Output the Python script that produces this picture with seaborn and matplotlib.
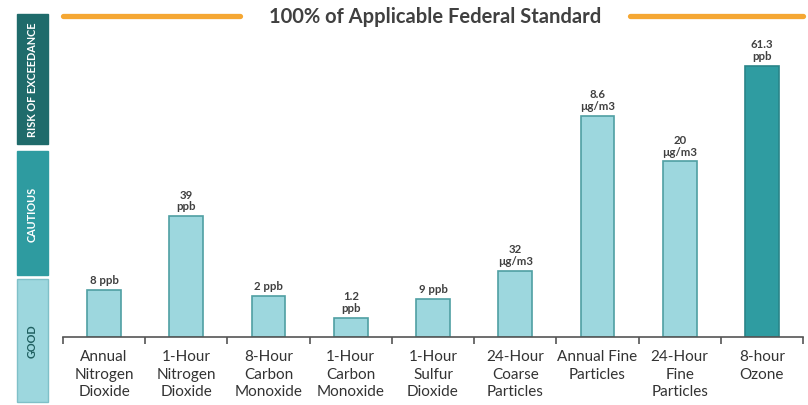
import matplotlib
matplotlib.use("Agg")
import matplotlib.pyplot as plt
import seaborn as sns
import pandas as pd
from matplotlib.patches import Rectangle
from matplotlib.lines import Line2D

categories = ["Annual\nNitrogen\nDioxide", "1-Hour\nNitrogen\nDioxide", "8-Hour\nCarbon\nMonoxide",
              "1-Hour\nCarbon\nMonoxide", "1-Hour\nSulfur\nDioxide", "24-Hour\nCoarse\nParticles",
              "Annual Fine\nParticles", "24-Hour\nFine\nParticles", "8-hour\nOzone"]
percent_of_standard = [14.6, 37.6, 12.7, 5.9, 11.8, 20.5, 68.9, 54.7, 84.5]
bar_labels = ["8 ppb", "39\nppb", "2 ppb", "1.2\nppb", "9 ppb", "32\nµg/m3", "8.6\nµg/m3", "20\nµg/m3", "61.3\nppb"]
status = ["good", "good", "good", "good", "good", "good", "good", "good", "cautious"]
bands = ["RISK OF EXCEEDANCE", "CAUTIOUS", "GOOD"]
title_text = "100% of Applicable Federal Standard"

sns.set_style("white")
plt.rcParams["font.family"] = ["Lato", "DejaVu Sans"]

W, H = 808, 406
fig = plt.figure(figsize=(W / 100, H / 100), dpi=100)
ax = fig.add_axes([63 / W, (H - 338) / H, (803 - 63) / W, (338 - 17) / H])

df = pd.DataFrame({"cat": categories, "val": percent_of_standard, "status": status})
palette = {"good": "#9dd7de", "cautious": "#2f9ca1"}
sns.barplot(data=df, x="cat", y="val", hue="status", palette=palette, dodge=False,
            width=0.41, legend=False, ax=ax, saturation=1)
edge = {"good": "#4f9fa3", "cautious": "#2a8589"}
for p, s in zip(ax.patches, status):
    p.set_edgecolor(edge[s])
    p.set_linewidth(1.2)

ax.set_xlim(-0.5, len(categories) - 0.5)
ax.set_ylim(0, 100)
ax.set_xlabel("")
ax.set_ylabel("")
ax.set_yticks([])
for sp in ["top", "right", "left"]:
    ax.spines[sp].set_visible(False)
ax.spines["bottom"].set_color("#555555")
ax.spines["bottom"].set_linewidth(1.2)

ax.set_xticks(range(len(categories)))
ax.set_xticklabels(categories, fontsize=11, color="#333333", linespacing=1.3)
ax.set_xticks([i - 0.5 for i in range(len(categories) + 1)], minor=True)
ax.tick_params(axis="x", which="major", length=0, pad=9)
ax.tick_params(axis="x", which="minor", length=5, width=1.2, color="#555555", bottom=True)

for i, (v, lab) in enumerate(zip(percent_of_standard, bar_labels)):
    ax.annotate(lab, (i, v), xytext=(0, 3.5), textcoords="offset points", ha="center", va="bottom",
                fontsize=8.2, fontweight="bold", color="#404040", linespacing=1.1)

# title with orange lines
fig.text(435 / W, (H - 17) / H, title_text, ha="center", va="center", fontsize=14.5,
         fontweight="bold", color="#404040")
fig.add_artist(Line2D([63 / W, 240 / W], [(H - 17) / H] * 2, color="#f5a733", lw=3.8,
                      solid_capstyle="round"))
fig.add_artist(Line2D([630 / W, 803 / W], [(H - 17) / H] * 2, color="#f5a733", lw=3.8,
                      solid_capstyle="round"))

# left bands
band_spec = [(15, 145, "#1f6b6b", "#1f6b6b"), (152, 276, "#2e9ba0", "#2e9ba0"), (280, 403, "#9dd7de", "#7fc0c8")]
for (y0, y1, fc, ec), lab in zip(band_spec, bands):
    fig.add_artist(Rectangle((17 / W, (H - y1) / H), 31 / W, (y1 - y0) / H, facecolor=fc,
                             edgecolor=ec, lw=1, transform=fig.transFigure))
    fig.text(32.5 / W, (H - (y0 + y1) / 2) / H, lab, rotation=90, ha="center", va="center",
             fontsize=7.8, fontweight="bold", color="white" if lab != "GOOD" else "#1f5f60")

fig.savefig("out.png", dpi=100)
